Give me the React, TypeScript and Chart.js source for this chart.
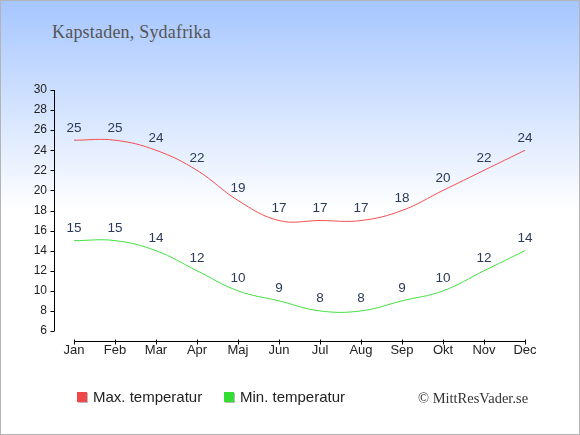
import React, { useEffect, useRef } from "react";
import { Chart, registerables } from "chart.js";
Chart.register(...registerables);

/** ---------- Data ---------- */
const months = ["Jan", "Feb", "Mar", "Apr", "Maj", "Jun", "Jul", "Aug", "Sep", "Okt", "Nov", "Dec"];
const maxTemps = [25, 25, 24, 22, 19, 17, 17, 17, 18, 20, 22, 24];
const minTemps = [15, 15, 14, 12, 10, 9, 8, 8, 9, 10, 12, 14];
const yTicks = [6, 8, 10, 12, 14, 16, 18, 20, 22, 24, 26, 28, 30];

const RED = "#f25050";
const GREEN = "#44e044";
const LABEL_COLOR = "#2a3a57";

/** ---------- Plugins ---------- */
// Axis lines sit apart from the plot area, so they are drawn here from the scales
const detachedAxes = {
  id: "detached-axes",
  afterDraw(chart: any) {
    const { ctx, chartArea, scales } = chart;
    const xs = scales.x;
    const ys = scales.y;
    ctx.save();
    ctx.strokeStyle = "#000";
    ctx.lineWidth = 1;
    ctx.beginPath();
    const ax = Math.round(chartArea.left - 20) + 0.5;
    ctx.moveTo(ax, ys.getPixelForValue(yTicks[yTicks.length - 1]));
    ctx.lineTo(ax, ys.getPixelForValue(yTicks[0]));
    ys.ticks.forEach((t: any) => {
      const py = Math.round(ys.getPixelForValue(t.value)) + 0.5;
      ctx.moveTo(ax - 4, py);
      ctx.lineTo(ax, py);
    });
    const ay = Math.round(chartArea.bottom + 10) + 0.5;
    ctx.moveTo(xs.getPixelForValue(0), ay);
    ctx.lineTo(xs.getPixelForValue(months.length - 1) + 1, ay);
    months.forEach((_, i) => {
      const px = Math.round(xs.getPixelForValue(i)) + 0.5;
      ctx.moveTo(px, ay - 2);
      ctx.lineTo(px, ay + 3);
    });
    ctx.stroke();
    ctx.restore();
  },
};

// value labels above each point
const valueLabels = {
  id: "value-labels",
  afterDatasetsDraw(chart: any) {
    const { ctx } = chart;
    ctx.save();
    ctx.font = "13.5px 'Liberation Sans', Arial, sans-serif";
    ctx.fillStyle = LABEL_COLOR;
    ctx.textAlign = "center";
    ctx.textBaseline = "alphabetic";
    chart.data.datasets.forEach((ds: any, di: number) => {
      const meta = chart.getDatasetMeta(di);
      meta.data.forEach((pt: any, i: number) => {
        ctx.fillText(String(ds.data[i]), pt.x, pt.y - 8.5);
      });
    });
    ctx.restore();
  },
};

/** ---------- Component ---------- */
const TempChart: React.FC = () => {
  const canvasRef = useRef<HTMLCanvasElement | null>(null);

  useEffect(() => {
    const canvas = canvasRef.current;
    if (!canvas) return;
    const chart = new Chart(canvas, {
      type: "line",
      data: {
        labels: months,
        datasets: [
          {
            label: "Max. temperatur",
            data: maxTemps,
            borderColor: RED,
            borderWidth: 1,
            pointRadius: 0,
            tension: 0.4,
            fill: false,
          },
          {
            label: "Min. temperatur",
            data: minTemps,
            borderColor: GREEN,
            borderWidth: 1,
            pointRadius: 0,
            tension: 0.4,
            fill: false,
          },
        ],
      },
      options: {
        responsive: true,
        maintainAspectRatio: false,
        animation: false,
        layout: { padding: { top: 90, right: 55, bottom: 0, left: 0 } },
        plugins: { legend: { display: false }, tooltip: { enabled: false } },
        scales: {
          x: {
            grid: { display: false, drawTicks: false },
            border: { display: false },
            ticks: {
              color: "#222",
              font: { size: 13, family: "'Liberation Sans', Arial, sans-serif" },
              padding: 12,
              maxRotation: 0,
              autoSkip: false,
            },
            afterFit: (scale: any) => {
              scale.height = 104;
            },
          },
          y: {
            min: yTicks[0],
            max: yTicks[yTicks.length - 1],
            grid: { display: false, drawTicks: false },
            border: { display: false },
            ticks: {
              color: "#222",
              font: { size: 12, family: "'Liberation Sans', Arial, sans-serif" },
              padding: 27,
            },
            afterBuildTicks: (scale: any) => {
              scale.ticks = yTicks.map((v) => ({ value: v }));
            },
            afterFit: (scale: any) => {
              scale.width = 74;
            },
          },
        },
      },
      plugins: [detachedAxes, valueLabels],
    });
    return () => chart.destroy();
  }, []);

  const legendItem = (color: string, text: string, left: number) => (
    <div style={{ position: "absolute", left, top: 386, display: "flex", alignItems: "center" }}>
      <span
        style={{
          width: 10,
          height: 10,
          background: color,
          display: "inline-block",
          boxShadow: "1px 1px 0 #bbb",
        }}
      />
      <span style={{ marginLeft: 6, fontSize: 15, color: "#222", lineHeight: "20px" }}>{text}</span>
    </div>
  );

  return (
    <div
      style={{
        position: "absolute",
        left: 0,
        top: 0,
        width: 580,
        height: 435,
        boxSizing: "border-box",
        border: "1px solid #b4b4b4",
        background: "linear-gradient(to bottom, #a6c6ff 0px, #ffffff 210px, #ffffff 435px)",
        fontFamily: "'Liberation Sans', Arial, sans-serif",
        overflow: "hidden",
      }}
    >
      <div
        style={{
          position: "absolute",
          left: 51,
          top: 21,
          fontFamily: "'Liberation Serif', 'Times New Roman', serif",
          fontSize: 18,
          letterSpacing: 0.2,
          lineHeight: "20px",
          color: "#555",
        }}
      >
        Kapstaden, Sydafrika
      </div>
      <div style={{ position: "absolute", left: -1, top: -1, width: 580, height: 435 }}>
        <canvas ref={canvasRef} />
      </div>
      {legendItem("#f04848", "Max. temperatur", 76)}
      {legendItem("#33dd33", "Min. temperatur", 223)}
      <div
        style={{
          position: "absolute",
          left: 417,
          top: 387,
          fontFamily: "'Liberation Serif', 'Times New Roman', serif",
          fontSize: 14.5,
          lineHeight: "20px",
          color: "#333",
        }}
      >
        © MittResVader.se
      </div>
    </div>
  );
};

export default function App() {
  return <TempChart />;
}
